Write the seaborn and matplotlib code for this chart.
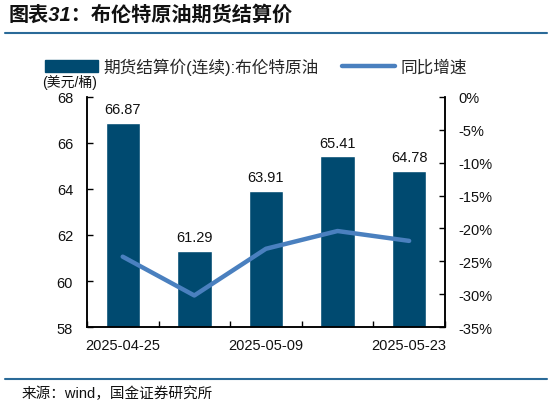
import numpy as np
import pandas as pd
import matplotlib
matplotlib.use("Agg")
import matplotlib.pyplot as plt
import seaborn as sns
from matplotlib.patches import Patch
from matplotlib.lines import Line2D
from matplotlib.ticker import FixedLocator, FuncFormatter

dates = ["2025-04-25", "2025-05-02", "2025-05-09", "2025-05-16", "2025-05-23"]
prices = [66.87, 61.29, 63.91, 65.41, 64.78]
yoy = [-24.3, -30.2, -23.1, -20.4, -21.9]
shown_labels = ["2025-04-25", "", "2025-05-09", "", "2025-05-23"]

title = "图表31：布伦特原油期货结算价"
bar_name = "期货结算价(连续):布伦特原油"
line_name = "同比增速"
unit = "(美元/桶)"
source = "来源：wind，国金证券研究所"

sns.set_theme(style="white")
plt.rcParams['font.family'] = ['Liberation Sans', 'Noto Sans CJK SC', 'DejaVu Sans']

bar_color = "#004a70"
line_color = "#4a80bf"
rule_color = "#2a6a98"

fig = plt.figure(figsize=(5.5, 4.06), dpi=100)
ax = fig.add_axes([0.158, 0.192, 0.651, 0.567])

df = pd.DataFrame({"date": dates, "price": prices, "yoy": yoy})
sns.barplot(data=df, x="date", y="price", color=bar_color, saturation=1,
            width=0.48, ax=ax)
ax.set_ylim(58, 68)
ax.set_xlim(-0.5, len(dates) - 0.5)
ax.set_xlabel("")
ax.set_ylabel("")
for i, v in enumerate(prices):
    ax.annotate(f"{v:.2f}", (i, v), xytext=(0, 5), textcoords="offset points",
                ha="center", va="bottom", fontsize=10.5, color="#111111")

ax.set_yticks(np.arange(58, 69, 2))
ax.set_xticks(range(len(dates)))
ax.set_xticklabels(shown_labels, fontsize=10.5, color="#111111")
ax.xaxis.set_minor_locator(FixedLocator(np.arange(-0.5, len(dates), 1.0)))
ax.tick_params(axis="x", which="major", length=0, pad=8)
ax.tick_params(axis="x", which="minor", direction="in", length=4, width=1, color="black", bottom=True)
ax.tick_params(axis="y", direction="in", length=4, width=1, color="black", labelsize=10.5, labelcolor="#111111", left=True, pad=10)

ax2 = ax.twinx()
sns.lineplot(x=np.arange(len(yoy)), y=yoy, color=line_color, linewidth=3.2, ax=ax2)
ax2.set_ylim(-35, 0)
ax2.set_yticks(np.arange(-35, 1, 5))
ax2.yaxis.set_major_formatter(FuncFormatter(lambda v, p: f"{v:.0f}%"))
ax2.tick_params(axis="y", direction="in", length=4, width=1, color="black", labelsize=10.5, labelcolor="#111111", right=True, pad=10)
ax2.set_xlim(-0.5, len(dates) - 0.5)

for a in (ax, ax2):
    for s in ["left", "right", "bottom"]:
        a.spines[s].set_visible(True)
        a.spines[s].set_color("black")
        a.spines[s].set_linewidth(1.1)
    a.spines["top"].set_visible(False)
    a.grid(False)

handles = [Patch(facecolor=bar_color, edgecolor=bar_color, label=bar_name),
           Line2D([0], [0], color=line_color, linewidth=3.2, label=line_name)]
fig.legend(handles=handles, loc="center", bbox_to_anchor=(0.465, 0.835), ncol=2,
           frameon=False, fontsize=12, handlelength=3.2, handleheight=0.7,
           columnspacing=1.4, handletextpad=0.3)

fig.text(0.076, 0.797, unit, fontsize=10, ha="left", va="center", color="#111111")

fig.text(0.015, 0.962, title, fontsize=14.5, fontweight="bold", style="italic",
         ha="left", va="center", color="#111111")
fig.add_artist(Line2D([0.009, 0.995], [0.917, 0.917], transform=fig.transFigure,
                      color=rule_color, linewidth=1.5))
fig.add_artist(Line2D([0.009, 0.995], [0.064, 0.064], transform=fig.transFigure,
                      color=rule_color, linewidth=1.5))
fig.text(0.04, 0.03, source, fontsize=10.5, ha="left", va="center", color="#111111")

fig.savefig("out.png", dpi=100)
